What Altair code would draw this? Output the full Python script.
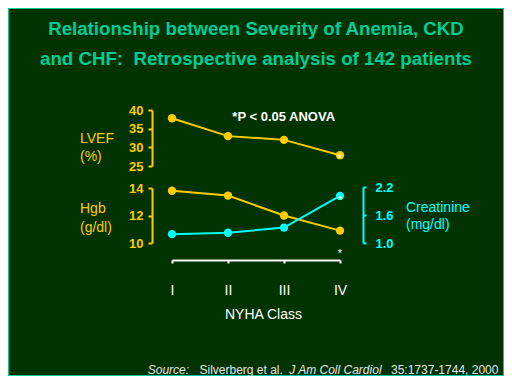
import altair as alt
import pandas as pd

classes = ["I", "II", "III", "IV"]
lvef = [37.8, 33.0, 32.0, 27.9]
hgb = [13.8, 13.45, 12.0, 10.9]
creat = [1.19, 1.22, 1.33, 2.01]

lvef_ticks = [25, 30, 35, 40]
hgb_ticks = [10, 12, 14]
creat_ticks = [1.0, 1.6, 2.2]

GOLD = "#FFCC00"
CYAN = "#00FFFF"
TEAL = "#00CC99"
BG = "#003300"
W, H = 496, 368

x_enc = alt.X(
    "cls:O",
    sort=classes,
    scale=alt.Scale(type="point", domain=classes, range=[164, 332], padding=0),
    axis=alt.Axis(
        orient="bottom", offset=-116, domainColor="white", domainWidth=2,
        tickColor="white", tickWidth=2, tickSize=3, labelColor="white",
        labelFont="Liberation Sans", labelFontSize=14, labelPadding=20,
        labelAngle=0, title="NYHA Class", titleColor="white",
        titleFont="Liberation Sans", titleFontSize=14, titleFontWeight="normal",
        titleX=255, titleY=58, titleBaseline="alphabetic", grid=False,
    ),
)


def yaxis(ticks, color, orient, offset, pad, ts, fmt):
    return alt.Axis(
        orient=orient, offset=offset, values=ticks, format=fmt,
        domainColor=color, domainWidth=2, tickColor=color, tickWidth=2,
        tickSize=ts, labelColor=color, labelFont="Liberation Sans",
        labelFontSize=13, labelFontWeight="bold", labelPadding=pad,
        title=None, grid=False, labelOverlap=False,
    )


def series(vals, domain, rng, color, axis, stars):
    df = pd.DataFrame({"cls": classes, "v": vals})
    y = alt.Y("v:Q", scale=alt.Scale(domain=domain, range=rng, zero=False, nice=False), axis=axis)
    line = alt.Chart(df).mark_line(color=color, strokeWidth=2).encode(x=x_enc, y=y)
    pts = alt.Chart(df).mark_point(filled=True, color=color, size=70, opacity=1).encode(x=x_enc, y=y)
    layers = [line, pts]
    for dy in stars:
        sdf = pd.DataFrame({"cls": [classes[-1]], "v": [vals[-1]], "t": ["*"]})
        layers.append(
            alt.Chart(sdf).mark_text(color="white", fontSize=11, font="Liberation Sans", dy=dy)
            .encode(x=x_enc, y=y, text="t:N")
        )
    return alt.layer(*layers)


l1 = series(lvef, [25, 40], [158, 102], GOLD,
            yaxis(lvef_ticks, GOLD, "left", -144, 5, 4, "d"), [4])
l2 = series(hgb, [10, 14], [235, 180], GOLD,
            yaxis(hgb_ticks, GOLD, "left", -144, 5, 4, "d"), [23])
l3 = series(creat, [1.0, 2.2], [235, 179], CYAN,
            yaxis(creat_ticks, CYAN, "right", -141, 9, 3, ".1f"), [5])

texts = [
    ("Relationship between Severity of Anemia, CKD", 248, 26.7, TEAL, 18.7, "bold", "normal", "center"),
    ("and CHF:\u00a0\u00a0Retrospective analysis of 142 patients", 248, 57, TEAL, 18.7, "bold", "normal", "center"),
    ("*P < 0.05 ANOVA", 275.7, 112.7, "white", 13, "bold", "normal", "center"),
    ("LVEF", 72, 135.3, GOLD, 14, "normal", "normal", "left"),
    ("(%)", 72, 152.7, GOLD, 14, "normal", "normal", "left"),
    ("Hgb", 72, 205.3, GOLD, 14, "normal", "normal", "left"),
    ("(g/dl)", 72, 223.7, GOLD, 14, "normal", "normal", "left"),
    ("Creatinine", 398, 203.7, CYAN, 14, "normal", "normal", "left"),
    ("(mg/dl)", 398, 221.3, CYAN, 14, "normal", "normal", "left"),
    ("Source:", 139.7, 366, "#E6E6E6", 12, "normal", "italic", "left"),
    ("Silverberg et al.", 191.5, 366, "#E6E6E6", 12, "normal", "normal", "left"),
    ("J Am Coll Cardiol", 281.3, 366, "#E6E6E6", 12, "normal", "italic", "left"),
    ("35:1737-1744, 2000", 383, 366, "#E6E6E6", 12, "normal", "normal", "left"),
]

text_layers = []
for t, x, y, c, fs, fw, st, al in texts:
    text_layers.append(
        alt.Chart(pd.DataFrame({"t": [t]})).mark_text(
            color=c, fontSize=fs, fontWeight=fw, fontStyle=st, align=al,
            baseline="alphabetic", font="Liberation Sans",
        ).encode(x=alt.value(x), y=alt.value(y), text="t:N")
    )

chart = (
    alt.layer(l1, l2, l3, *text_layers)
    .resolve_scale(y="independent")
    .properties(width=W, height=H, autosize=alt.AutoSizeParams(type="none"), padding=0, background=BG)
    .configure_view(stroke=TEAL, strokeWidth=2)
)

chart.save("out.html", embed_options={"renderer": "svg", "actions": False})
